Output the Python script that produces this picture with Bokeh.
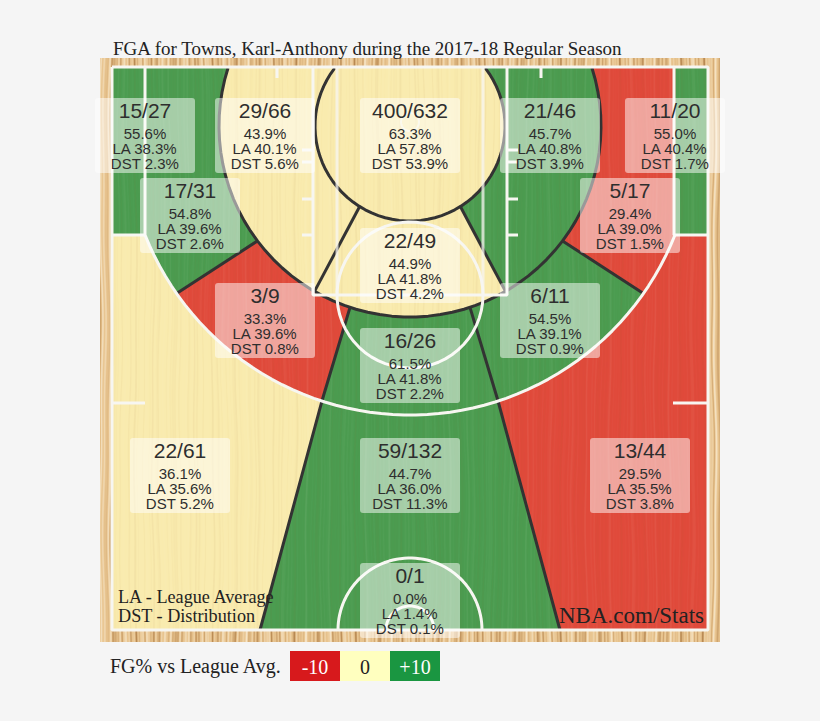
import numpy as np
from bokeh.plotting import figure
from bokeh.models import Range1d
from bokeh.core.properties import value
from bokeh.embed import file_html
from bokeh.resources import INLINE

# ---- data ----
title = "FGA for Towns, Karl-Anthony during the 2017-18 Regular Season"
made_att = ["15/27", "29/66", "400/632", "21/46", "11/20", "17/31", "5/17", "22/49",
            "3/9", "6/11", "16/26", "22/61", "59/132", "13/44", "0/1"]
fg_pct = ["55.6%", "43.9%", "63.3%", "45.7%", "55.0%", "54.8%", "29.4%", "44.9%",
          "33.3%", "54.5%", "61.5%", "36.1%", "44.7%", "29.5%", "0.0%"]
la_pct = ["LA 38.3%", "LA 40.1%", "LA 57.8%", "LA 40.8%", "LA 40.4%", "LA 39.6%", "LA 39.0%", "LA 41.8%",
          "LA 39.6%", "LA 39.1%", "LA 41.8%", "LA 35.6%", "LA 36.0%", "LA 35.5%", "LA 1.4%"]
dst_pct = ["DST 2.3%", "DST 5.6%", "DST 53.9%", "DST 3.9%", "DST 1.7%", "DST 2.6%", "DST 1.5%", "DST 4.2%",
           "DST 0.8%", "DST 0.9%", "DST 2.2%", "DST 5.2%", "DST 11.3%", "DST 3.8%", "DST 0.1%"]
legend_labels = ["-10", "0", "+10"]

# ---- layout ----
box_left = [95, 215, 360, 500, 625, 140, 580, 360, 215, 500, 360, 130, 360, 590, 360]
box_top = [98, 98, 98, 98, 98, 178, 178, 228, 283, 283, 328, 438, 438, 438, 563]
GREEN, YELLOW, RED = "#4B9C50", "#F9EBAE", "#E04A3B"
WOOD = "#E8C48F"
LEG = ["#D7191C", "#FFFFBF", "#1A9641"]
DARK = "#333333"
WHITE = "#F7F6F1"

p = figure(width=804, height=705, x_range=Range1d(0.5, 804.5), y_range=Range1d(705.5, 0.5),
           output_backend="svg", toolbar_location=None, min_border=0,
           background_fill_color="#F5F5F5", border_fill_color="#F5F5F5", outline_line_color=None)
p.xaxis.visible = False
p.yaxis.visible = False
p.grid.visible = False

# ---- court geometry ----
CX, CY, R1, R2 = 410, 126, 95, 191      # restricted + mid-range arcs
TY, R3 = 130, 285                       # three point arc
LEFT, RIGHT, TOP, BOT = 113, 707, 68, 630
CORNER, CORNER_Y = 145, 235


def arc(r, a0, a1, cy=CY):
    t = np.radians(np.linspace(a0, a1, 60))
    return list(zip(CX + r * np.cos(t), cy + r * np.sin(t)))


def mir(pts):
    return [(820 - x, y) for x, y in pts]


def pt(r, a, cy=CY):
    return arc(r, a, a, cy)[0]


A_TOP1 = 180 + np.degrees(np.arcsin((CY - TOP) / R1))
A_TOP2 = 180 + np.degrees(np.arcsin((CY - TOP) / R2))
A_CORNER = np.degrees(np.arctan2(CORNER_Y - TY, CORNER - CX))
WEDGE_BOT = (260, BOT)

restricted = arc(R1, 180 - A_TOP1, A_TOP1)
paint = arc(R2, 60, 120) + arc(R1, 122, 58)
mid_left = arc(R2, 120, A_TOP2) + arc(R1, A_TOP1, 122)
deep_left = [(LEFT, CORNER_Y), (CORNER, CORNER_Y)] + arc(R3, A_CORNER, 108, TY) + [WEDGE_BOT, (LEFT, BOT)]
wing_left = arc(R3, 145, A_CORNER, TY) + [(CORNER, TOP)] + arc(R2, A_TOP2, 143)
elbow_left = arc(R3, 108, 145, TY) + arc(R2, 143, 108.3)
top_key = arc(R2, 71.7, 108.3) + arc(R3, 108, 72, TY)
center_deep = arc(R3, 72, 108, TY) + [WEDGE_BOT, (820 - WEDGE_BOT[0], BOT)]
corner_left = [(LEFT, TOP), (CORNER, TOP), (CORNER, CORNER_Y), (LEFT, CORNER_Y)]

zones = [
    (corner_left, GREEN), (mir(corner_left), GREEN),
    (deep_left, YELLOW), (mir(deep_left), RED),
    (center_deep, GREEN), (top_key, GREEN),
    (wing_left, GREEN), (mir(wing_left), RED),
    (elbow_left, RED), (mir(elbow_left), GREEN),
    (mid_left, YELLOW), (mir(mid_left), GREEN),
    (paint, YELLOW), (restricted, YELLOW),
]

p.quad(left=[100], right=[720], top=[58], bottom=[642], fill_color=WOOD, line_color=None)
p.quad(left=[LEFT], right=[RIGHT], top=[TOP], bottom=[BOT], fill_color=YELLOW, line_color=None)
p.patches([[a for a, _ in z] for z, _ in zones], [[b for _, b in z] for z, _ in zones],
          fill_color=[c for _, c in zones], line_color=[c for _, c in zones], line_width=0.5)

# wood grain (sum of sines, purely decorative)
H, W = 584, 620
yy, xx = np.mgrid[0:H, 0:W]
warp = 1.2 * np.sin(yy / 61.0 + xx / 37.0) + 0.6 * np.sin(yy / 23.0 - xx / 11.0)
g = (np.sin((xx + warp) * 0.83) + np.sin((xx + warp) * 1.37 + 1.3) + np.sin((xx + warp) * 0.31 + 0.4)
     + 0.7 * np.sin((xx + warp) * 2.11)) / 3.7
inner = (xx >= 12) & (xx <= 608) & (yy >= 9) & (yy <= 572)
rgba = np.zeros((H, W, 4), dtype=np.uint8)
rgba[..., 0] = np.where(g > 0, 255, 150)
rgba[..., 1] = np.where(g > 0, 250, 95)
rgba[..., 2] = np.where(g > 0, 235, 40)
rgba[..., 3] = (np.abs(g) * np.where(inner, 18, 170)).astype(np.uint8)
p.image_rgba(image=[rgba.view(np.uint32).reshape(H, W)], x=100, y=58, dw=W, dh=H)

# dark zone lines
dark = [
    arc(R2, 180 - A_TOP2, A_TOP2),
    arc(R1, 180 - A_TOP1, A_TOP1),
    [pt(R1, 122), pt(R2, 120)],
    [pt(R1, 58), pt(R2, 60)],
    [pt(R2, 143), pt(R3, 145, TY)],
    [pt(R2, 37), pt(R3, 35, TY)],
    [pt(R2, 108.3), pt(R3, 108, TY), WEDGE_BOT],
    [pt(R2, 71.7), pt(R3, 72, TY), (820 - WEDGE_BOT[0], BOT)],
]
p.multi_line([[a for a, _ in s] for s in dark], [[b for _, b in s] for s in dark],
             line_color=DARK, line_width=3)

# white court lines
white = [
    [(112, 67), (708, 67), (708, 630), (112, 630), (112, 67)],
    [(CORNER, 67), (CORNER, CORNER_Y)] + arc(R3, A_CORNER, 180 - A_CORNER, TY) + [(674, CORNER_Y), (674, 67)],
    [(112, CORNER_Y), (CORNER, CORNER_Y)], [(674, CORNER_Y), (708, CORNER_Y)],
    [(313, 67), (313, 295), (507, 295), (507, 67)],
    arc(73, 0, 360, 295),
    arc(72, 180, 360, 630), arc(24, 180, 360, 630),
    [(112, 403), (145, 403)], [(673, 403), (708, 403)],
    [(277, 67), (277, 78)], [(541, 67), (541, 78)],
]
for yt in (150, 162, 199, 235):
    white += [[(302, yt), (313, yt)], [(507, yt), (518, yt)]]
p.multi_line([[a for a, _ in s] for s in white], [[b for _, b in s] for s in white],
             line_color=WHITE, line_width=3)
inner_lane = [[(337, 67), (337, 295)], [(483, 67), (483, 295)]]
p.multi_line([[a for a, _ in s] for s in inner_lane], [[b for _, b in s] for s in inner_lane],
             line_color=WHITE, line_width=3, line_alpha=0.75)
hoop = arc(9, 0, 360, 122)
p.line([a for a, _ in hoop], [b for _, b in hoop], line_color=WHITE, line_width=2, line_alpha=0.7)

# label boxes
bl = np.array(box_left)
bt = np.array(box_top)
p.quad(left=bl, right=bl + 100, top=bt, bottom=bt + 75, fill_color="white", fill_alpha=0.5,
       line_color=None, border_radius=3)
SANS = value("Liberation Sans")
TXT = "#2E2E2E"
for rows, off, size in ((made_att, 12, "21px"), (fg_pct, 35, "15px"), (la_pct, 50, "15px"), (dst_pct, 65, "15px")):
    p.text(bl + 50, bt + off, text=rows, text_align="center", text_baseline="middle",
           text_font=SANS, text_font_size=size, text_color=TXT)

# notes
SERIF = value("Liberation Serif")
p.text([113], [48], text=[title], text_font=SERIF, text_font_size="19px", text_baseline="middle", text_color="#222222")
p.text([118, 118], [597, 616], text=["LA - League Average", "DST - Distribution"], text_font=SERIF,
       text_font_size="18.2px", text_baseline="middle", text_color="#222222")
p.text([704], [615], text=["NBA.com/Stats"], text_font=SERIF, text_font_size="23px", text_align="right",
       text_baseline="middle", text_color="#222222")

# legend
p.text([110], [666], text=["FG% vs League Avg."], text_font=SERIF, text_font_size="20px", text_baseline="middle",
       text_color="#222222")
lx = np.array([290, 340, 390])
p.quad(left=lx, right=lx + 50, top=[651] * 3, bottom=[681] * 3, fill_color=LEG, line_color=None)
p.text(lx + 25, [667] * 3, text=legend_labels, text_font=SERIF, text_font_size="20px", text_align="center",
       text_baseline="middle", text_color=["#FFFFFF", "#222222", "#FFFFFF"])

html = file_html(p, INLINE)
html = html.replace("<head>", "<head><style>html,body{background:#F5F5F5}</style>", 1)
open("out.html", "w").write(html)
